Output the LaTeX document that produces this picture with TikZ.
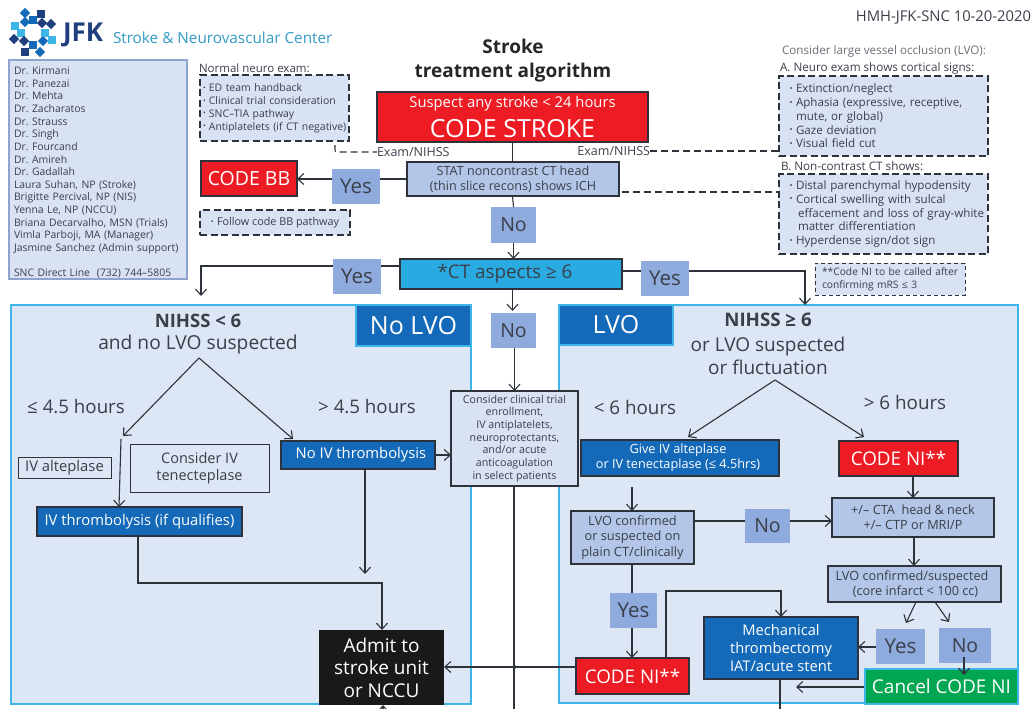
\documentclass[tikz,border=0pt]{standalone}
\usepackage{fontspec}
\setmainfont{Open Sans}
\AtBeginDocument{\frenchspacing}
\usetikzlibrary{arrows.meta,calc}
\definecolor{ink}{HTML}{3A3F4A}
\definecolor{edge}{HTML}{2E323A}
\definecolor{redbox}{HTML}{ED1C24}
\definecolor{panel}{HTML}{DCE6F4}
\definecolor{sky}{HTML}{3DB5E6}
\definecolor{royal}{HTML}{1469B8}
\definecolor{ltbox}{HTML}{B3C6E7}
\definecolor{tag}{HTML}{8FAADC}
\definecolor{note}{HTML}{D8E2F3}
\definecolor{navy}{HTML}{1F3F7F}
\definecolor{ctblue}{HTML}{29ABE2}
\definecolor{greenbox}{HTML}{00A651}
\pgfdeclarelayer{panels}
\pgfdeclarelayer{lines}
\pgfsetlayers{panels,lines,main}
\newcommand\fs[2]{\fontsize{#1}{#2}\selectfont}
\newcommand\bul{\raisebox{.12em}{\scalebox{.7}{•}}\hspace{.3em}}
\newcommand\bx[6][]{%
  \pgfmathsetmacro\cxx{(#3+#5)/2}\pgfmathsetmacro\cyy{(#4+#6)/2}%
  \pgfmathsetmacro\www{#5-#3}\pgfmathsetmacro\hhh{#6-#4}%
  \coordinate (#2@c) at (\cxx,\cyy);
  \node[box,minimum width=\www pt,minimum height=\hhh pt,#1] (#2) at (#2@c)}
\tikzset{
  x=1pt,y=-1pt,
  box/.style={inner sep=0pt,outer sep=0pt,align=center,text=ink},
  solidbox/.style={draw=edge,line width=1.1pt},
  red/.style={solidbox,fill=redbox,text=white},
  blue/.style={solidbox,fill=royal,text=white},
  lt/.style={solidbox,fill=ltbox},
  yn/.style={fill=tag,text=ink,font=\fs{20.5}{24}},
  nn/.style={fill=tag,text=ink,font=\fs{19.5}{24}},
  dbox/.style={draw=edge,fill=note,line width=1.2pt,dash pattern=on 7pt off 3.5pt},
  lbl/.style={inner sep=0pt,outer sep=0pt,text=ink,align=center},
  ln/.style={draw=edge,line width=1.1pt},
  arr/.style={ln,-{Straight Barb[length=6pt,width=11pt,line width=1.1pt]}},
  dl/.style={draw=edge,line width=1.1pt,dash pattern=on 7pt off 4pt},
}
\begin{document}
\begin{tikzpicture}
\useasboundingbox (0,0) rectangle (1033,709);
\clip (0,0) rectangle (1033,709);

% logo
\foreach \px/\py/\c/\r in {25/13/royal/45,41/14/navy/0,33/20/royal/0,25/22/royal/45,42/23/navy/45,51/24/navy/45,15/26/sky/0,21/33/sky/0,14/39/navy/45,24/41/navy/45,33/45/royal/0,43/41/royal/45,52/40/sky/0,45/33/sky/0,25/52/navy/0,40/52/royal/45}{
  \fill[\c,rotate around={\r:(\px,\py)}] (\px-3.6,\py-3.6) rectangle (\px+3.6,\py+3.6);
}
\node[lbl,anchor=west,text=navy,font=\fs{26}{30}\bfseries] (jfk) at (63,35) {JFK};
\node[lbl,anchor=west,text=sky!85!black,font=\fs{15.3}{18}] (center) at (113,38) {Stroke \& Neurovascular Center};
\node[lbl,anchor=east,font=\fs{14.8}{17}] (rev) at (1031,18) {HMH-JFK-SNC 10-20-2020};
\node[lbl,font=\fs{19}{24}\bfseries,text=black!85] (title) at (513,61) {Stroke\\treatment algorithm};

% staff
\bx[draw=tag!85!gray,line width=1.3pt,fill=note,text width=168pt,align=left,font=\fs{10.4}{12.65}]{staff}{9}{60}{187}{279}{\rule{0pt}{14pt}Dr. Kirmani\\Dr. Panezai\\Dr. Mehta\\Dr. Zacharatos\\Dr. Strauss\\Dr. Singh\\Dr. Fourcand\\Dr. Amireh\\Dr. Gadallah\\Laura Suhan, NP (Stroke)\\Brigitte Percival, NP (NIS)\\Yenna Le, NP (NCCU)\\Briana Decarvalho, MSN (Trials)\\Vimla Parboji, MA (Manager)\\Jasmine Sanchez (Admin support)\\[12.65pt]SNC Direct Line~~(732) 744–5805};

% normal exam
\node[lbl,anchor=west,font=\fs{11.5}{14}] (normal) at (199,68) {Normal neuro exam:};
\bx[dbox,text width=146pt,align=left,font=\fs{10.45}{12.9}]{neuro}{200}{75}{349}{141}{\hspace*{1.5pt}\bul ED team handback\\\hspace*{1.5pt}\bul Clinical trial consideration\\\hspace*{1.5pt}\bul SNC–TIA pathway\\\hspace*{1.5pt}\bul Antiplatelets (if CT negative)};

% main column
\bx[red]{stroke}{377}{92}{648}{142}{{\fs{14.8}{18}Suspect any stroke < 24 hours}\\[7pt]{\fs{25}{27}CODE STROKE}};
\bx[lt,font=\fs{12.6}{14.8}]{stat}{407}{162}{619}{196}{STAT noncontrast CT head\\(thin slice recons) shows ICH};
\node[lbl,anchor=west,font=\fs{12.5}{14}] (examL) at (377,152) {Exam/NIHSS};
\node[lbl,anchor=east,font=\fs{12.5}{14}] (examR) at (650,151) {Exam/NIHSS};
\bx[red,font=\fs{19.5}{22}]{bb}{201}{161}{297}{196}{CODE BB};
\bx[dbox,font=\fs{10.8}{13}]{follow}{200}{210}{350}{235}{\bul Follow code BB pathway};
\bx[yn]{yes1}{332}{169}{380}{204}{Yes};
\bx[nn]{no1}{491}{207}{536}{243}{No};
\bx[solidbox,fill=ctblue,font=\fs{18.8}{22}]{ct}{400}{259}{622}{289}{\hspace*{-12pt}*CT aspects ≥ 6};
\bx[yn]{yes2}{333}{259}{381}{294}{Yes};
\bx[yn]{yes3}{641}{261}{689}{296}{Yes};

% right notes
\node[lbl,anchor=west,text=ink!75,font=\fs{11.7}{14}] (lvoq) at (782,51) {Consider large vessel occlusion (LVO):};
\node[lbl,anchor=west,font=\fs{11.7}{14}] (a) at (780,68) {A. Neuro exam shows cortical signs:};
\bx[dbox,text width=206pt,align=left,font=\fs{11.6}{13.7}]{boxa}{779}{76}{988}{156}{\hspace*{9pt}\bul Extinction/neglect\\\hspace*{9pt}\bul Aphasia (expressive, receptive,\\\hspace*{15.5pt}mute, or global)\\\hspace*{9pt}\bul Gaze deviation\\\hspace*{9pt}\bul Visual field cut};
\node[lbl,anchor=west,font=\fs{11.7}{14}] (b) at (781,166) {B. Non-contrast CT shows:};
\bx[dbox,text width=206pt,align=left,font=\fs{11.6}{13.7}]{boxb}{779}{174}{988}{254}{\hspace*{9pt}\bul Distal parenchymal hypodensity\\\hspace*{9pt}\bul Cortical swelling with sulcal\\\hspace*{17.5pt}effacement and loss of gray-white\\\hspace*{17.5pt}matter differentiation\\\hspace*{9pt}\bul Hyperdense sign/dot sign};
\bx[dbox,line width=1pt,dash pattern=on 4pt off 3pt,text width=142pt,align=left,font=\fs{10.25}{13}]{ninote}{815}{263}{965}{295}{\hspace*{3pt}**Code NI to be called after\\\hspace*{3pt}confirming mRS ≤ 3};

% panels
\begin{pgfonlayer}{panels}
\bx[draw=sky,line width=1.6pt,fill=panel]{left}{11}{305}{471}{704}{};
\bx[draw=sky,line width=1.6pt,fill=panel]{right}{559}{305}{1018}{703}{};
\end{pgfonlayer}
\bx[draw=sky,line width=1.6pt,fill=royal,text=white,font=\fs{25}{28}]{nolvo}{356}{305}{471}{346}{No LVO};
\bx[draw=sky,line width=1.6pt,fill=royal,text=white,font=\fs{25}{28}]{lvo}{559}{305}{673}{345}{LVO};
\bx[nn]{no2}{491}{313}{536}{348}{No};

% left panel
\node[lbl,font=\fs{18.5}{21}\bfseries] (nl1) at (198,321) {NIHSS < 6};
\node[lbl,font=\fs{19.2}{22}] (nl2) at (198,345) {and no LVO suspected};
\node[lbl,font=\fs{18.7}{21}] (t1) at (76,407) {≤ 4.5 hours};
\node[lbl,font=\fs{18.7}{21}] (t2) at (367,407) {> 4.5 hours};
\bx[draw=edge,line width=1pt,font=\fs{14.8}{17}]{alte}{18}{457}{111}{478}{IV alteplase};
\bx[draw=edge,line width=1pt,font=\fs{14.5}{17.5}]{tene}{130}{444}{269}{492}{Consider IV\\tenecteplase};
\bx[blue,font=\fs{14.8}{17}]{noiv}{281}{441}{435}{469}{\hspace*{6pt}No IV thrombolysis};
\bx[blue,font=\fs{14.8}{17}]{ivt}{37}{507}{242}{536}{IV thrombolysis (if qualifies)};
\bx[fill=black!90,text=white,font=\fs{19}{22.6}]{admit}{319}{630}{444}{705}{Admit to\\stroke unit\\or NCCU};
\bx[solidbox,fill=note,font=\fs{10.7}{12.7}]{trial}{451}{391}{578}{486}{Consider clinical trial\\enrollment,\\IV antiplatelets,\\neuroprotectants,\\and/or acute\\anticoagulation\\in select patients};

% right panel
\node[lbl,font=\fs{18.7}{21}\bfseries] (nr1) at (768,320) {NIHSS ≥ 6};
\node[lbl,font=\fs{19}{23}] (nr2) at (768,355.5) {or LVO suspected\\or fluctuation};
\node[lbl,font=\fs{18.8}{21}] (t3) at (635,407) {< 6 hours};
\node[lbl,font=\fs{18.8}{21}] (t4) at (905,402) {> 6 hours};
\bx[blue,font=\fs{12.7}{15.2}]{give}{581}{440}{779}{476}{\hspace*{-4pt}Give IV alteplase\\\hspace*{-4pt}or IV tenectaplase (≤ 4.5hrs)};
\bx[red,font=\fs{18.8}{22}]{ni1}{839}{441}{958}{476}{CODE NI**};
\bx[lt,font=\fs{12.8}{15.4}]{conf}{571}{511}{694}{564}{LVO confirmed\\or suspected on\\plain CT/clinically};
\bx[nn]{no3}{745}{509}{790}{543}{No};
\bx[lt,font=\fs{12.7}{15.2}]{cta}{832}{498}{994}{537}{+/– CTA~ head \& neck\\+/– CTP or MRI/P};
\bx[lt,font=\fs{12.7}{15.2}]{core}{828}{566}{1001}{602}{\hspace*{-5pt}LVO confirmed/suspected\\\hspace*{2pt}(core infarct < 100 cc)};
\bx[yn]{yes4}{610}{593}{657}{628}{Yes};
\bx[yn]{yes5}{876}{629}{925}{664}{Yes};
\bx[nn]{no4}{939}{628}{991}{663}{No};
\bx[blue,font=\fs{14.7}{17.9}]{mech}{704}{617}{858}{679}{Mechanical\\thrombectomy\\IAT/acute stent};
\bx[red,font=\fs{18.8}{22}]{ni2}{576}{658}{689}{694}{CODE NI**};
\bx[draw=sky,line width=1.2pt,fill=greenbox,text=white,font=\fs{19}{22}]{cancel}{865}{669}{1018}{704}{Cancel CODE NI};

% free ends
\coordinate (apexL) at (199,358);
\coordinate (tipL) at (123,436);
\coordinate (tipR) at (293,439);
\coordinate (ivStart) at (121,439);
\coordinate (ivTip) at (119,507);
\coordinate (apexR) at (775,380);
\coordinate (giveTip) at (688,437);
\coordinate (niTip) at (864,437);
\coordinate (belowNoIV) at (365,574);
\coordinate (bottomC) at (514,712);
\coordinate (giveEnd) at (632,487);
\coordinate (cancelEnd) at (796,687);
\coordinate (mechEnd) at (780,712);
\coordinate (admitB) at (383,716);
\coordinate (ctLdrop) at (201,296);
\coordinate (ctRdrop) at (805,305);
\coordinate (coreL) at (916,602);
\coordinate (coreLtip) at (906,623);
\coordinate (coreR) at (935,602);
\coordinate (coreRtip) at (949,622);
\coordinate (dashStart) at (335,145);

% connectors, behind the nodes
\begin{pgfonlayer}{lines}
\draw[ln] (stroke.south) -- (stat.north -| stroke.south);
\draw[arr] (stat.west) -- (stat.west -| bb.east);
\draw[ln] (stat.south -| no1.north) ++(-1,0) -- (no1.north);
\draw[arr] (no1.south) -- (no1.south |- ct.north);
\draw[arr] (ct.west |- 0,266) -- (ctLdrop |- 0,266) -- (ctLdrop);
\draw[arr] (ct.east |- 0,271) -- (ctRdrop |- 0,271) -- (ctRdrop);
\draw[arr] (ct.south -| no2.north) ++(-1,0) -- +(0,22);
\draw[arr] (no2.south) ++(1,0) -- +(0,43);
\draw[dl] (dashStart) -- (335,149) .. controls (335,152) and (335,152) .. (338,152) -- (examL.west);
\draw[dl] (examR.east) -- (boxa.west |- examR.east);
\draw[dl] (stat.east |- 0,192) ++(3,0) -- (boxb.west |- 0,192);
\draw[arr] (apexL) -- (tipL);
\draw[arr] (apexL) -- (tipR);
\draw[arr] (ivStart) -- (ivTip);
\draw[arr] (noiv.south -| belowNoIV) -- (belowNoIV);
\draw[arr] (noiv.east) -- (noiv.east -| trial.west);
\draw[arr] (ivt.south -| 138,0) -- (138,583) -- (382,583) -- (admit.north -| 382,0);
\draw[ln] (trial.south -| bottomC) -- (bottomC);
\draw[arr] (ni2.west |- 0,667) -- (admit.east |- 0,667);
\fill[edge] (515,667) circle (1.8);
\draw[arr] (admitB) -- (admitB |- admit.south);
\draw[arr] (apexR) -- (giveTip);
\draw[arr] (apexR) -- (niTip);
\draw[arr] (giveEnd) -- (giveEnd |- conf.north);
\draw[arr] (conf.east |- 0,521) -- (cta.west |- 0,521);
\draw[arr] (ni1.south -| 913,0) -- (cta.north -| 913,0);
\draw[arr] (cta.south -| 914,0) -- (core.north -| 914,0);
\draw[arr] (conf.south -| 632,0) -- (ni2.north -| 632,0);
\draw[arr] (ni2.north -| 666,0) -- (666,591) -- (781,591) -- (mech.north -| 781,0);
\draw[arr] (coreL) -- (coreLtip);
\draw[arr] (coreR) -- (coreRtip);
\draw[arr] (yes5.west |- 0,647) -- (mech.east |- 0,647);
\draw[arr] (cancel.west |- 0,687) -- (cancelEnd);
\draw[ln] (mech.south -| mechEnd) -- (mechEnd);
\end{pgfonlayer}
% this arrow lies over both of its boxes
\draw[arr] (no4.south -| 964,0) ++(0,-6) -- (964,675);
\end{tikzpicture}
\end{document}
